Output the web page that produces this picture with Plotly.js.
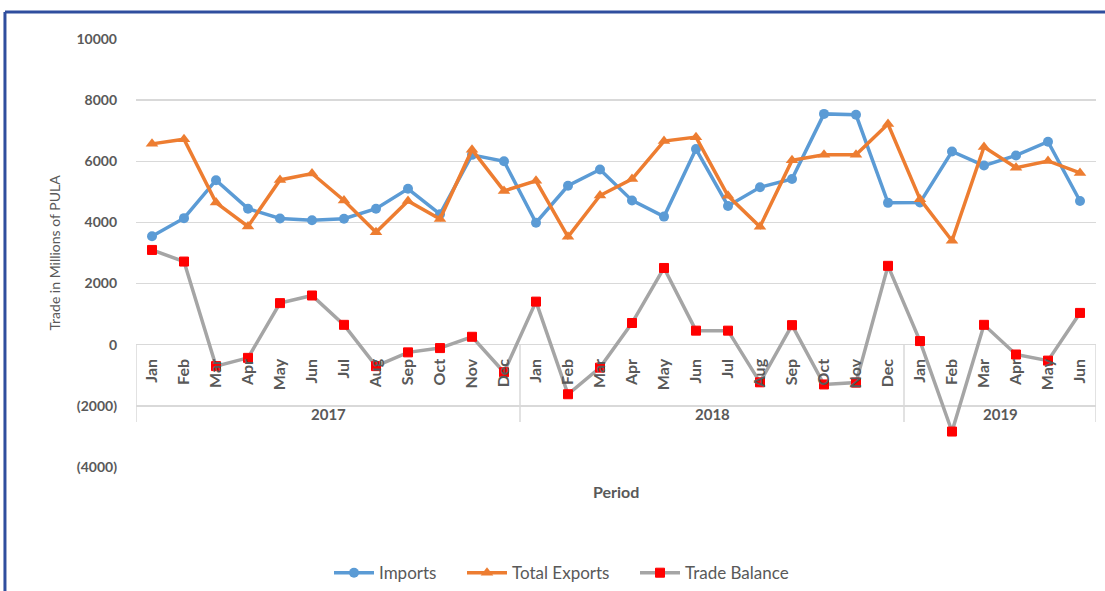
<!DOCTYPE html>
<html>
<head>
<meta charset="utf-8">
<script src="https://cdn.plot.ly/plotly-3.0.1.min.js"></script>
<style>html,body{margin:0;padding:0;background:#fff;}#chart{width:1105px;height:591px;}</style>
</head>
<body>
<div id="chart"></div>
<script>
// ---- data ----
const months = ["Jan","Feb","Mar","Apr","May","Jun","Jul","Aug","Sep","Oct","Nov","Dec",
                "Jan","Feb","Mar","Apr","May","Jun","Jul","Aug","Sep","Oct","Nov","Dec",
                "Jan","Feb","Mar","Apr","May","Jun"];
const years = ["2017","2018","2019"];
const monthsPerYear = [12, 12, 6];
const imports = [3550,4140,5380,4450,4130,4070,4120,4450,5100,4270,6210,6000,
                 3990,5200,5730,4720,4190,6400,4540,5150,5420,7550,7520,4640,
                 4650,6320,5860,6190,6640,4700];
const totalExports = [6570,6720,4650,3870,5390,5600,4720,3680,4700,4110,6380,5030,
                      5360,3530,4880,5420,6660,6790,4870,3860,6030,6210,6210,7220,
                      4760,3400,6470,5790,6010,5620];
const tradeBalance = [3100,2720,-700,-430,1360,1610,650,-700,-250,-110,260,-900,
                      1410,-1620,-750,710,2510,460,460,-1230,640,-1300,-1240,2580,
                      120,-2840,650,-320,-520,1040];
const yTickVals = [-4000,-2000,0,2000,4000,6000,8000,10000];
const yTickText = ["(4000)","(2000)","0","2000","4000","6000","8000","10000"];

// ---- build ----
const xIdx = months.map((_, i) => i);
const FONT = "Lato, 'Open Sans', sans-serif";
const GREY = "#595959";

const traces = [
  {x: xIdx, y: imports, name: "Imports", mode: "lines+markers", type: "scatter", legend: "legend",
   line: {color: "#5B9BD5", width: 3.5}, marker: {symbol: "circle", size: 10, color: "#5B9BD5"}},
  {x: xIdx, y: totalExports, name: "Total Exports", mode: "lines+markers", type: "scatter", legend: "legend2",
   line: {color: "#ED7D31", width: 3.5}, marker: {symbol: "triangle-up", size: 11, color: "#ED7D31"}},
  {x: xIdx, y: tradeBalance, name: "Trade Balance", mode: "lines+markers", type: "scatter", legend: "legend3",
   line: {color: "#A5A5A5", width: 3.5}, marker: {symbol: "square", size: 9, color: "#FF0000", line: {color: "#FF0000", width: 1}}}
];

// year group boundaries
const bounds = [-0.5];
monthsPerYear.forEach(n => bounds.push(bounds[bounds.length - 1] + n));
const shapes = bounds.map(b => ({type: "line", xref: "x", yref: "y", x0: b, x1: b, y0: 0, y1: -2530,
  line: {color: "#D9D9D9", width: 1.5}}));
// outer blue frame
shapes.push({type: "line", xref: "paper", yref: "paper", x0: -0.1365, x1: 1.02, y0: 1.0631, y1: 1.0631,
  line: {color: "#2F4E9E", width: 3}});
shapes.push({type: "line", xref: "paper", yref: "paper", x0: -0.1365, x1: -0.1365, y0: 1.0631, y1: -0.4,
  line: {color: "#2F4E9E", width: 3}});

const annotations = years.map((yr, i) => ({
  x: (bounds[i] + bounds[i + 1]) / 2, y: -2270, xref: "x", yref: "y", text: yr, showarrow: false,
  yanchor: "middle", font: {family: FONT, size: 15, color: GREY, weight: "bold"}
}));
annotations.push({x: 0.5, y: -0.058, xref: "paper", yref: "paper", text: "<b>Period</b>", showarrow: false,
  yanchor: "middle", font: {family: FONT, size: 16, color: GREY}});

function legendAt(px) {
  return {orientation: "h", x: (px - 136) / 960, xanchor: "left", y: -0.248, yanchor: "middle",
          font: {family: FONT, size: 17, color: GREY}, itemwidth: 40, bgcolor: "rgba(0,0,0,0)"};
}

const layout = {
  width: 1105, height: 591,
  margin: {l: 136, r: 9, t: 39, b: 124, autoexpand: false},
  paper_bgcolor: "#fff", plot_bgcolor: "#fff",
  font: {family: FONT, color: GREY},
  showlegend: true,
  legend: legendAt(335 - 6),
  legend2: legendAt(468 - 6),
  legend3: legendAt(641 - 6),
  xaxis: {range: [-0.5, 29.5], tickvals: xIdx, ticktext: months, tickangle: -90,
          anchor: "free", position: 4000 / 14000, showgrid: false, zeroline: false,
          showline: false, ticks: "", ticklabelstandoff: 10,
          tickfont: {family: FONT, size: 16, color: GREY, weight: "bold"}, fixedrange: true},
  yaxis: {range: [-4000, 10000], tickvals: yTickVals, ticktext: yTickText,
          showgrid: true, gridcolor: "#D9D9D9", gridwidth: 1.5, zeroline: false, showline: false,
          ticks: "", ticklabelstandoff: 18,
          tickfont: {family: FONT, size: 14, color: GREY, weight: "bold"},
          title: {text: "Trade in Millions of PULA", font: {family: FONT, size: 14, color: GREY}, standoff: 12},
          automargin: false, fixedrange: true},
  shapes: shapes,
  annotations: annotations
};

Plotly.newPlot("chart", traces, layout, {displayModeBar: false, staticPlot: true});
</script>
</body>
</html>
